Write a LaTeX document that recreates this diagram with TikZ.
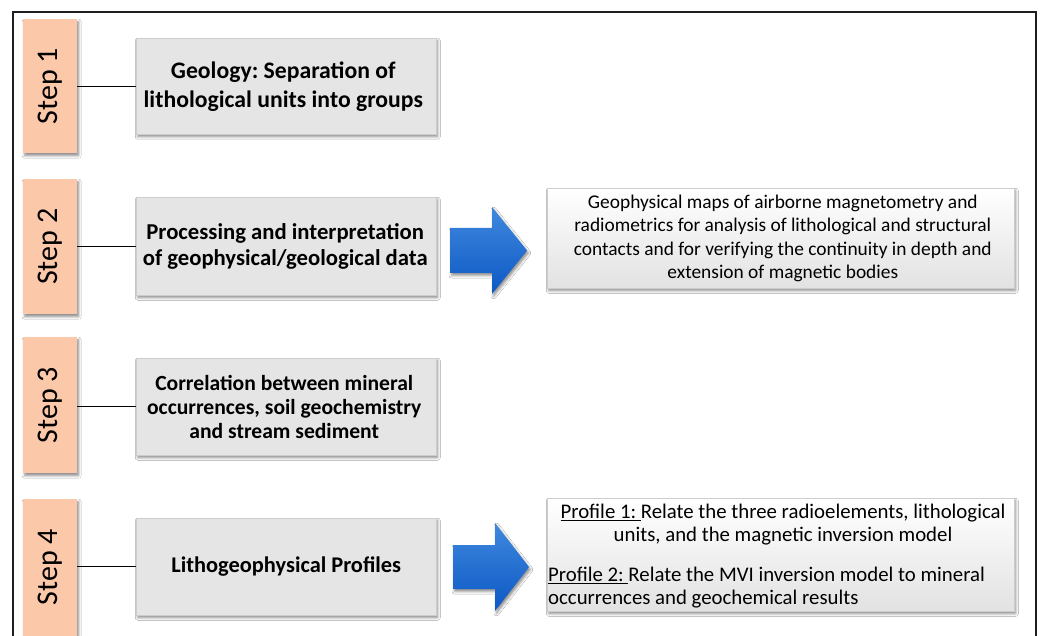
\documentclass[tikz,border=0pt]{standalone}
\usepackage{fontspec}
\setmainfont{Carlito}
\usetikzlibrary{shadows.blur}
\frenchspacing

\definecolor{stepfill}{RGB}{252,200,170}
\definecolor{taskfill}{RGB}{229,229,229}
\definecolor{taskline}{RGB}{205,205,205}
\definecolor{noteline}{RGB}{205,205,205}
\definecolor{notebottom}{RGB}{226,226,226}
\definecolor{arrowtop}{RGB}{64,136,222}
\definecolor{arrowbottom}{RGB}{12,88,196}
\definecolor{framecol}{RGB}{30,30,30}

\tikzset{
  softshadow/.style={blur shadow={shadow xshift=1.5pt, shadow yshift=-2.5pt,
      shadow blur radius=2.5pt, shadow opacity=45}},
  stepbox/.style={softshadow, fill=stepfill, draw=none, anchor=north west},
  steplabel/.style={rotate=90, font=\fontsize{30}{36}\selectfont, inner sep=0pt},
  taskbox/.style={softshadow, fill=taskfill, draw=taskline, line width=0.5pt,
      minimum width=300pt, minimum height=97pt, anchor=north west},
  tasktext/.style={align=center, inner sep=0pt},
  notebox/.style={softshadow, top color=white, bottom color=notebottom,
      draw=noteline, line width=0.6pt, minimum width=467pt, anchor=north west},
  notetext/.style={font=\fontsize{19.4}{23.4}\selectfont, inner sep=1pt},
  profiletext/.style={font=\fontsize{20.8}{23.4}\selectfont, inner sep=1pt},
  flowarrow/.style={softshadow, top color=arrowtop, bottom color=arrowbottom, draw=none},
  link/.style={draw=black, line width=1.3pt},
  frame/.style={draw=framecol, line width=1.3pt}
}

\begin{document}
\begin{tikzpicture}[x=1pt,y=-1pt]
\useasboundingbox (0,0) rectangle (1041,636);
\clip (0,0) rectangle (1041,636);
\fill[white] (0,0) rectangle (1041,636);

% outer frame
\draw[frame] (13,12) rectangle (1036,700);

% step tabs
\node[stepbox, minimum width=54pt, minimum height=134pt] (s1) at (23,19) {};
\node[stepbox, minimum width=54pt, minimum height=135pt] (s2) at (23,179) {};
\node[stepbox, minimum width=54pt, minimum height=136pt] (s3) at (23,337) {};
\node[stepbox, minimum width=54pt, minimum height=150pt] (s4) at (23,499) {};
\node[steplabel] (l1) at (s1.center) {Step 1};
\node[steplabel] (l2) at (s2.center) {Step 2};
\node[steplabel] (l3) at (s3.center) {Step 3};
\node[steplabel] (l4) at (50,567) {Step 4};

% task boxes
\node[taskbox, minimum height=96pt] (t1) at (136,38) {};
\node[taskbox, minimum height=98pt] (t2) at (136,197) {};
\node[taskbox] (t3) at (136,358) {};
\node[taskbox] (t4) at (136,518) {};

\node[tasktext, font=\bfseries\fontsize{23.7}{29}\selectfont] (t1text) at ([xshift=-3pt]t1.center)
  {Geology: Separation of\\lithological units into groups};
\node[tasktext, font=\bfseries\fontsize{22.7}{26.5}\selectfont] (t2text) at ([xshift=-1pt]t2.center)
  {Processing and interpretation\\of geophysical/geological data};
\node[tasktext, font=\bfseries\fontsize{21.6}{24.2}\selectfont] (t3text) at ([xshift=-2pt]t3.center)
  {Correlation between mineral\\occurrences, soil geochemistry\\and stream sediment};
\node[tasktext, font=\bfseries\fontsize{22.4}{26}\selectfont] (t4text) at (t4.center)
  {Lithogeophysical Profiles};

% connectors from tabs to tasks
\draw[link] (t1.west) -- (t1.west -| s1.east);
\draw[link] (t2.west) -- (t2.west -| s2.east);
\draw[link] (t3.west) -- (t3.west -| s3.east);
\draw[link] (t4.west) -- (t4.west -| s4.east);

% block arrows
\path[flowarrow] (450,228) -- (492,228) -- (492,207) -- (527,250.5)
  -- (492,294) -- (492,273) -- (450,273) -- cycle;
\path[flowarrow] (453,545) -- (495,545) -- (495,523) -- (529,567)
  -- (495,611) -- (495,589) -- (453,589) -- cycle;

% result boxes
\node[notebox, minimum height=100pt] (n2) at (547,188) {};
\node[notetext, align=center] (n2text) at ([xshift=2pt]n2.center)
  {Geophysical maps of airborne magnetometry and\\
   radiometrics for analysis of lithological and structural\\
   contacts and for verifying the continuity in depth and\\
   extension of magnetic bodies};

\node[notebox, minimum height=113pt] (n4) at (547,498) {};
\node[profiletext, align=center] (p1) at (783,524.5)
  {\underline{Profile 1:\ }Relate the three radioelements, lithological\\
   units, and the magnetic inversion model};
\node[profiletext, align=left, anchor=west] (p2) at (547,587.5)
  {\underline{Profile 2:\ }Relate the MVI inversion model to mineral\\
   occurrences and geochemical results};
\end{tikzpicture}
\end{document}
